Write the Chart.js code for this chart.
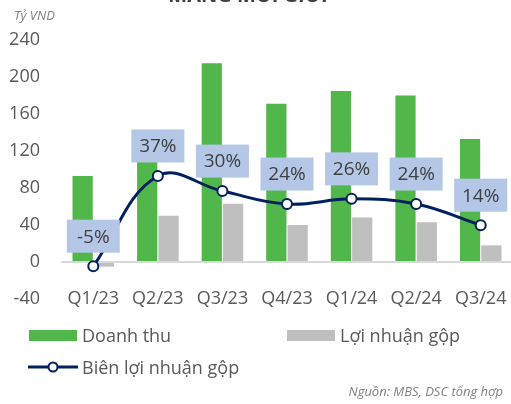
<!DOCTYPE html>
<html lang="vi">
<head>
<meta charset="UTF-8">
<title>Mảng môi giới</title>
<script src="https://cdn.jsdelivr.net/npm/chart.js"></script>
<style>
  html, body { margin: 0; padding: 0; background: #fff; overflow: hidden; }
  body { width: 511px; height: 404px; position: relative; font-family: "Open Sans", sans-serif; color: #595959; }
  #wrap { position: absolute; left: 0; top: 0; width: 520px; height: 404px; }
  .title { position: absolute; left: 0; width: 496px; top: -15px; line-height: 20px; text-align: center; font-weight: bold; font-size: 20px; color: #404040; }
  .unit { position: absolute; left: 14px; top: 6px; font-size: 13px; font-style: italic; color: #7f7f7f; }
  .leg { position: absolute; font-size: 18px; color: #595959; line-height: 20px; }
  .box { position: absolute; width: 48px; height: 11px; }
  .src { position: absolute; right: 8px; top: 382px; font-size: 13px; font-style: italic; color: #7f7f7f; }
</style>
</head>
<body>
<div id="wrap"><canvas id="chart" width="520" height="404"></canvas></div>
<div class="title">MẢNG MÔI GIỚI</div>
<div class="unit">Tỷ VND</div>

<div class="box" style="left:29px; top:330px; background:#52b74b;"></div>
<div class="leg" style="left:82px; top:325px;">Doanh thu</div>
<div class="box" style="left:287px; top:330px; background:#bfbfbf;"></div>
<div class="leg" style="left:340px; top:325px;">Lợi nhuận gộp</div>
<svg style="position:absolute; left:27px; top:359px;" width="52" height="16">
  <line x1="1" y1="8" x2="51" y2="8" stroke="#002060" stroke-width="3"/>
  <circle cx="26" cy="8" r="4.5" fill="#fff" stroke="#002060" stroke-width="2"/>
</svg>
<div class="leg" style="left:82px; top:357px;">Biên lợi nhuận gộp</div>
<div class="src">Nguồn: MBS, DSC tổng hợp</div>

<script>
const quarters = ["Q1/23", "Q2/23", "Q3/23", "Q4/23", "Q1/24", "Q2/24", "Q3/24"];
const doanhThu = [93, 110, 215, 171, 185, 180, 133];
const loiNhuanGop = [-5, 50, 63, 40, 48, 43, 18];
const bienLoiNhuan = [-4.8, 37, 30, 24, 26.4, 24, 14.2];   // %
const yTicks = [-40, 0, 40, 80, 120, 160, 200, 240];

// nhãn % trong ô xanh nhạt phía trên mỗi điểm
const labelBoxes = {
  id: "labelBoxes",
  afterDatasetsDraw(chart) {
    const meta = chart.getDatasetMeta(0);
    const ctx = chart.ctx;
    ctx.save();
    ctx.font = "19px 'Open Sans'";
    ctx.textAlign = "center";
    ctx.textBaseline = "middle";
    meta.data.forEach((pt, i) => {
      const cx = pt.x, cy = pt.y - 30;
      ctx.fillStyle = "#b4c7e7";
      ctx.fillRect(cx - 26.5, cy - 16.5, 53, 33);
      ctx.fillStyle = "#404040";
      ctx.fillText(Math.round(bienLoiNhuan[i]) + "%", cx, cy + 1);
    });
    ctx.restore();
  }
};

// nhãn trục hoành đặt ngang hàng với mốc -40
const xLabels = {
  id: "xLabels",
  afterDraw(chart) {
    const xs = chart.scales.x;
    const ctx = chart.ctx;
    ctx.save();
    ctx.font = "18px 'Open Sans'";
    ctx.fillStyle = "#595959";
    ctx.textAlign = "center";
    ctx.textBaseline = "middle";
    quarters.forEach((q, i) => ctx.fillText(q, xs.getPixelForValue(i), chart.scales.y.getPixelForValue(-40)));
    ctx.restore();
  }
};

new Chart(document.getElementById("chart"), {
  data: {
    labels: quarters,
    datasets: [
      {
        type: "line",
        label: "Biên lợi nhuận gộp",
        data: bienLoiNhuan,
        yAxisID: "y2",
        borderColor: "#002060",
        borderWidth: 3,
        tension: 0.4,
        pointRadius: 5,
        pointBorderWidth: 2,
        pointBackgroundColor: "#fff",
        pointBorderColor: "#002060",
        order: 0
      },
      {
        type: "bar",
        label: "Doanh thu",
        data: doanhThu,
        backgroundColor: "#52b74b",
        barPercentage: 0.95,
        categoryPercentage: 0.66,
        order: 1
      },
      {
        type: "bar",
        label: "Lợi nhuận gộp",
        data: loiNhuanGop,
        backgroundColor: "#bfbfbf",
        barPercentage: 0.95,
        categoryPercentage: 0.66,
        order: 1
      }
    ]
  },
  options: {
    responsive: false,
    animation: false,
    layout: { padding: { top: 40, right: 5, left: 0, bottom: 105 } },
    plugins: { legend: { display: false }, tooltip: { enabled: false } },
    scales: {
      x: {
        grid: { display: false, drawTicks: false },
        border: { display: false },
        ticks: { display: false }
      },
      y: {
        min: -40,
        max: 240,
        afterFit(scale) { scale.width = 61; },
        afterBuildTicks(scale) { scale.ticks = yTicks.map(v => ({ value: v })); },
        grid: {
          drawTicks: false,
          color: ctx => ctx.tick && ctx.tick.value === 0 ? "#d9d9d9" : "transparent",
          lineWidth: 2
        },
        border: { display: false },
        ticks: { color: "#595959", font: { family: "Open Sans", size: 18 }, padding: 21 }
      },
      y2: {
        display: false,
        min: -20,
        max: 100
      }
    }
  },
  plugins: [labelBoxes, xLabels]
});
</script>
</body>
</html>
